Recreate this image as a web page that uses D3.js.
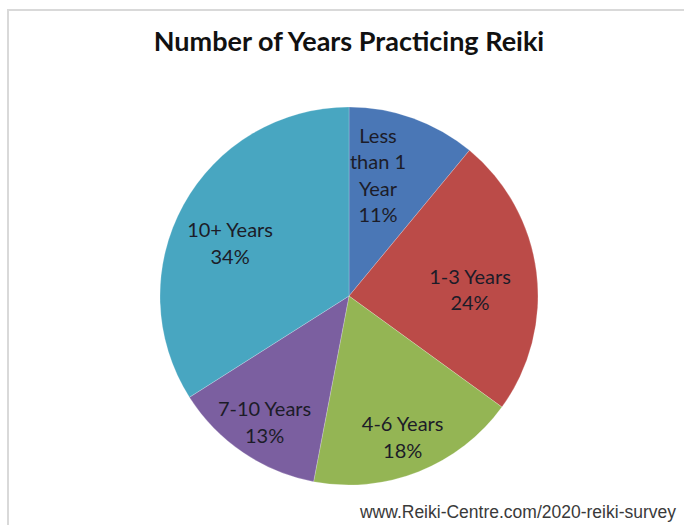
<!DOCTYPE html>
<html>
<head>
<meta charset="utf-8">
<script src="https://cdn.jsdelivr.net/npm/d3@7"></script>
<style>
  html, body { margin: 0; padding: 0; background: #fff; }
  svg { display: block; }
</style>
</head>
<body>
<svg id="chart" width="684" height="525"></svg>
<script>
// Survey data: years practicing Reiki
const categories = ["Less than 1 Year", "1-3 Years", "4-6 Years", "7-10 Years", "10+ Years"];
const labelLines = [["Less", "than 1", "Year"], ["1-3 Years"], ["4-6 Years"], ["7-10 Years"], ["10+ Years"]];
const percents = [11, 24, 18, 13, 34];
const colors = ["#4a77b6", "#bb4b48", "#94b554", "#7b5fa0", "#48a6c1"];

const svg = d3.select("#chart");
const W = 684, H = 525;

// frame
svg.append("path")
  .attr("d", `M8,${H} L8,10 L${W},10`)
  .attr("fill", "none")
  .attr("stroke", "#d9d9d9")
  .attr("stroke-width", 2);

// title
svg.append("text")
  .attr("x", 349).attr("y", 51)
  .attr("text-anchor", "middle")
  .attr("font-family", "Lato, 'Open Sans', sans-serif")
  .attr("font-weight", "bold")
  .attr("font-size", 27)
  .attr("fill", "#111")
  .text("Number of Years Practicing Reiki");

const cx = 349, cy = 296, R = 189;
const g = svg.append("g").attr("transform", `translate(${cx},${cy})`);

const pie = d3.pie().value(d => d).sort(null);
const arcs = pie(percents);
const arc = d3.arc().innerRadius(0).outerRadius(R);

g.selectAll("path.slice")
  .data(arcs)
  .join("path")
  .attr("class", "slice")
  .attr("d", arc)
  .attr("fill", (d, i) => colors[i])
  .attr("stroke", "rgba(255,255,255,0.35)")
  .attr("stroke-width", 0.6);

// label placement: radius fraction of each slice's centroid plus a small nudge
const placement = [
  { r: 0.656, dx: -13, dy: -4 },
  { r: 0.640, dx: 1, dy: 9 },
  { r: 0.800, dx: -2, dy: 1 },
  { r: 0.804, dx: 1, dy: 1 },
  { r: 0.688, dx: -5, dy: 10 }
];
const lineH = 26.5;

arcs.forEach((a, i) => {
  const p = placement[i];
  const la = d3.arc().innerRadius(R * p.r).outerRadius(R * p.r);
  const [x, y] = la.centroid(a);
  const lines = labelLines[i].concat([percents[i] + "%"]);
  const y0 = y + p.dy - (lines.length - 1) * lineH / 2;
  const t = g.append("text")
    .attr("text-anchor", "middle")
    .attr("font-family", "Lato, 'Open Sans', sans-serif")
    .attr("font-size", 20)
    .attr("fill", "#1c1c28");
  lines.forEach((s, k) => {
    t.append("tspan")
      .attr("x", x + p.dx)
      .attr("y", y0 + k * lineH)
      .attr("dy", "0.35em")
      .text(s);
  });
});

// source note
svg.append("text")
  .attr("x", 676).attr("y", 518)
  .attr("text-anchor", "end")
  .attr("font-family", "'Liberation Sans', Arial, sans-serif")
  .attr("font-size", 17.5)
  .attr("fill", "#3a3a3a")
  .text("www.Reiki-Centre.com/2020-reiki-survey");
</script>
</body>
</html>
